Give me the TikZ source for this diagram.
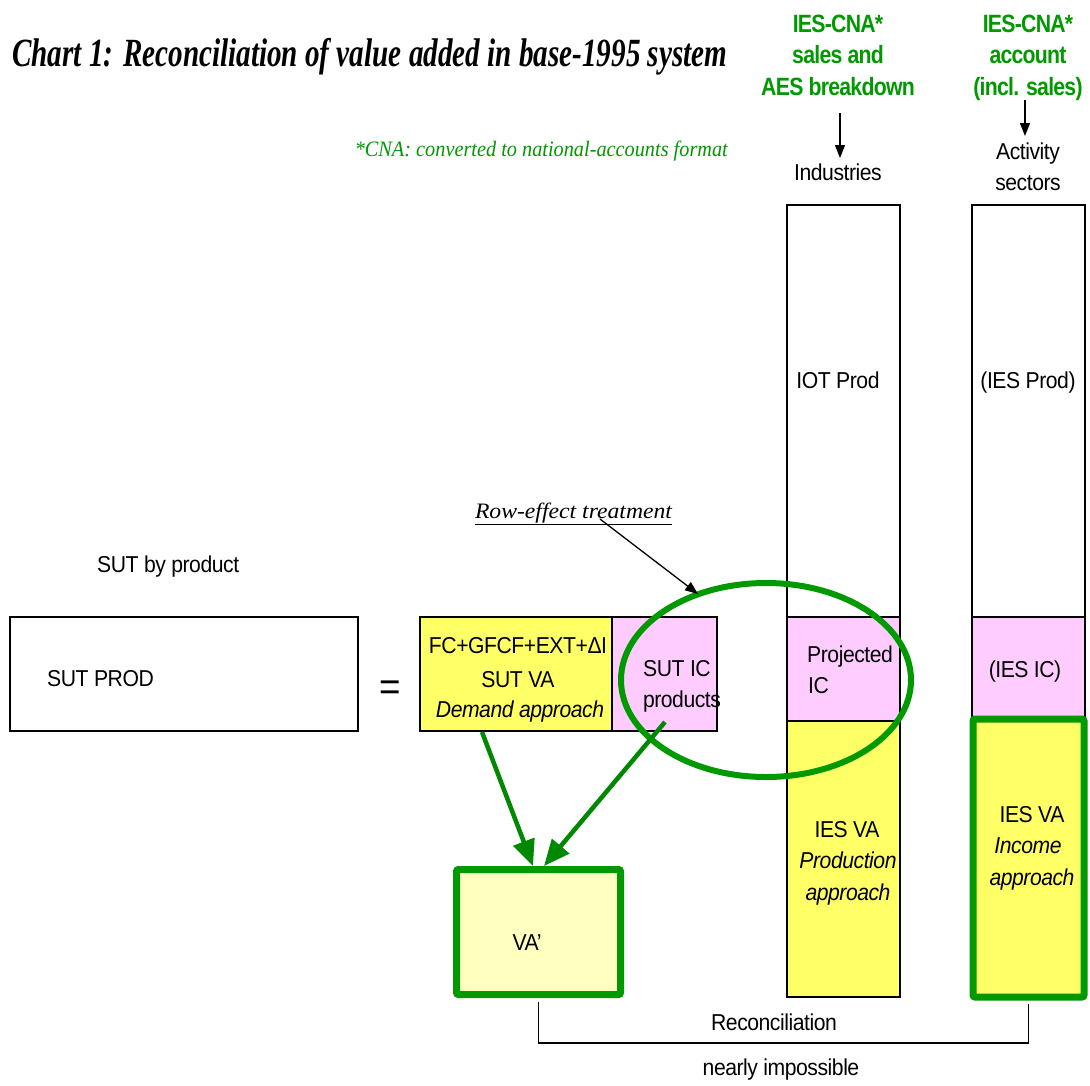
\documentclass[tikz,border=0pt]{standalone}
\usepackage{fontspec}
\usepackage{graphicx}
\setmainfont{Liberation Sans}[FakeStretch=0.92,LetterSpace=-2]
\newfontfamily\hfont{Liberation Sans}[FakeStretch=0.85,LetterSpace=-3]
\newfontfamily\tfont{Liberation Serif}
\usetikzlibrary{arrows.meta,calc,shapes.geometric}
\definecolor{grn}{RGB}{0,153,0}
\definecolor{agrn}{RGB}{0,136,0}
\definecolor{ylw}{RGB}{255,255,102}
\definecolor{pnk}{RGB}{255,204,255}
\definecolor{lylw}{RGB}{255,255,192}
\begin{document}
\begin{tikzpicture}[x=1pt,y=-1pt,
  txt/.style={inner sep=0,anchor=base,font=\fontsize{23}{31}\selectfont},
  itx/.style={txt,font=\fontsize{23}{31}\selectfont\itshape},
  hd/.style={inner sep=0,anchor=base,text=grn,font=\fontsize{25}{31}\selectfont\hfont\bfseries},
  cell/.style={draw=black,line width=1.3pt,inner sep=0,minimum width=#1},
  barrow/.style={line width=1.3pt,-{Triangle[length=13pt,width=10pt]}},
  garrow/.style={line width=4.5pt,draw=agrn,-{Triangle[length=26pt,width=22pt]}},
  gbox/.style={draw=grn,line width=7pt,rounded corners=2pt,inner sep=0}
]
\useasboundingbox (0,0) rectangle (1090,1085);
\fill[white] (0,0) rectangle (1090,1085);

% title and note
\node[anchor=base west,inner sep=0] (title) at (12,66)
  {\resizebox{715pt}{\height}{\fontsize{40}{40}\selectfont\tfont\bfseries\itshape Chart 1: Reconciliation of value added in base-1995 system}};
\node[anchor=base east,inner sep=0,text=grn] (note) at (728,156)
  {\resizebox{373pt}{\height}{\fontsize{22}{24}\selectfont\tfont\itshape *CNA: converted to national-accounts format}};

% headings
\node[hd] (h1a) at (838,32) {IES-CNA*};
\node[hd] (h1b) at (838,63) {sales and};
\node[hd] (h1c) at (838,95) {AES breakdown};
\node[hd] (h2a) at (1028,32) {IES-CNA*};
\node[hd] (h2b) at (1028,63) {account};
\node[hd] (h2c) at (1028,95) {(incl. sales)};

\node[txt] (ind) at (838,180) {Industries};
\node[txt] (act) at (1028,159) {Activity};
\node[txt] (sec) at (1028,190) {sectors};

\coordinate (a1f) at (840,113);
\coordinate (a1t) at (840,158);
\coordinate (a2f) at (1025,100);
\coordinate (a2t) at (1025,136);
\draw[barrow] (a1f) -- (a1t);
\draw[barrow] (a2f) -- (a2t);

% column A (industries)
\node[cell=113,minimum height=412,fill=white] (iotw) at (843.5,411) {};
\node[cell=113,minimum height=104,fill=pnk] (projic) at (843.5,669) {};
\node[cell=113,minimum height=276,fill=ylw] (iesvaA) at (843.5,859) {};
% column B (activity sectors)
\node[cell=113,minimum height=412,fill=white] (iesw) at (1028.5,411) {};
\node[cell=113,minimum height=104,fill=pnk] (iesic) at (1028.5,669) {};
\node[gbox,fill=ylw,minimum width=111,minimum height=278] (iesvaB) at (1028.5,858) {};

\node[txt] (t1) at (838,388) {IOT Prod};
\node[txt] (t2) at (1028,388) {(IES Prod)};
\node[txt,anchor=base west] (t3) at (807,662) {Projected};
\node[txt,anchor=base west] (t4) at (808,693) {IC};
\node[txt] (t5) at (1025,677) {(IES IC)};
\node[txt] (t6) at (847,837) {IES VA};
\node[itx] (t7) at (848,868) {Production};
\node[itx] (t8) at (848,900) {approach};
\node[txt] (t9) at (1032,822) {IES VA};
\node[itx] (t10) at (1028,853) {Income};
\node[itx] (t11) at (1032,885) {approach};

% left part
\node[txt,anchor=base west] (sbp) at (97,572) {SUT by product};
\node[cell=348,minimum height=114,fill=white] (sutprod) at (184,674) {};
\node[txt,anchor=base west] (sp) at (47,686) {SUT PROD};
\node[inner sep=0,anchor=base,font=\fontsize{40}{40}\selectfont] (eq) at (390,700) {=};
\node[cell=192,minimum height=114,fill=ylw] (sutva) at (516,674) {};
\node[cell=105,minimum height=114,fill=pnk] (sutic) at (664.5,674) {};
\node[txt] (y1) at (518,653) {FC+GFCF+EXT+ΔI};
\node[txt] (y2) at (518,687) {SUT VA};
\node[itx] (y3) at (520,717) {Demand approach};
\node[txt] (p1) at (677,676) {SUT IC};
\node[txt] (p2) at (682,707) {products};

% row effect
\node[inner sep=0,anchor=base] (row) at (573.5,518)
  {\resizebox{197pt}{\height}{\fontsize{22}{24}\selectfont\tfont\itshape\underline{Row-effect treatment}}};
\node[draw=grn,line width=6pt,ellipse,inner sep=0,minimum width=290,minimum height=194] (ell) at (766,680) {};
\coordinate (rf) at (600,519);
\coordinate (rt) at (698,594);
\draw[barrow] (rf) -- (rt);

% VA' box
\node[gbox,fill=lylw,minimum width=164,minimum height=125] (vap) at (538.5,932) {};
\node[txt] (vat) at (527,950) {VA'};

% green arrows
\coordinate (g1f) at (482,732);
\coordinate (g1t) at (533,866);
\coordinate (g2f) at (665,722);
\coordinate (g2t) at (544,866);
\draw[garrow] (g1f) -- (g1t);
\draw[garrow] (g2f) -- (g2t);

% reconciliation
\coordinate (recL) at (538.5,1043);
\draw[line width=1.3pt,shorten <=3.5pt,shorten >=3.5pt] (vap.south) -- (recL) -| (iesvaB.south);
\node[txt] (rec) at (774,1030) {Reconciliation};
\node[txt] (imp) at (781,1075) {nearly impossible};
\end{tikzpicture}
\end{document}
